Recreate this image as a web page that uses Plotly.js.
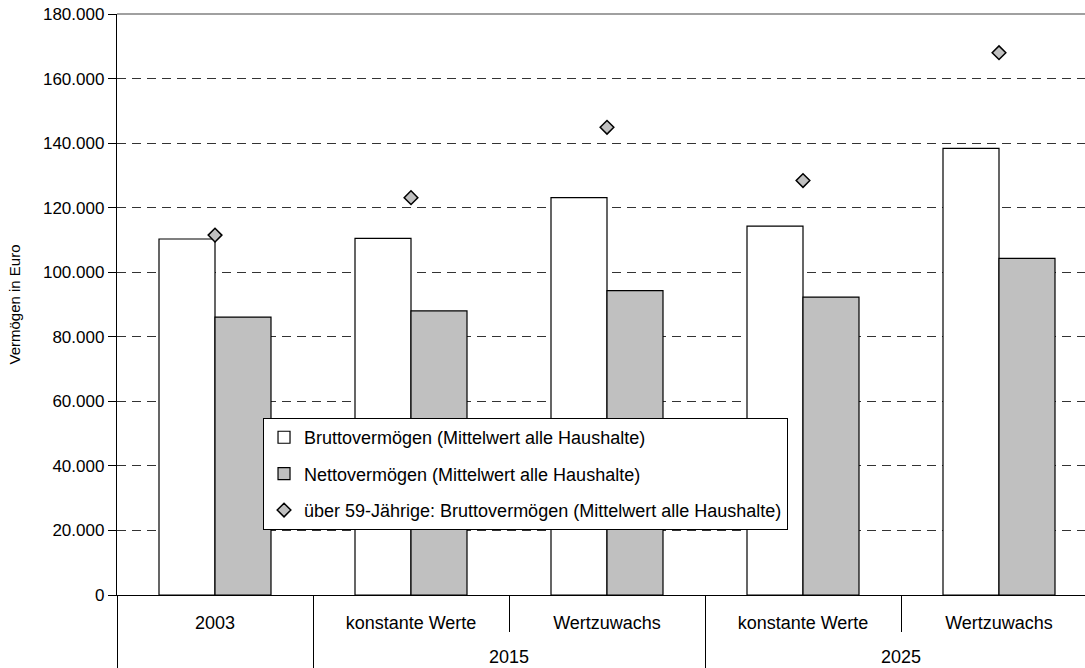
<!DOCTYPE html>
<html>
<head>
<meta charset="utf-8">
<script src="https://cdn.plot.ly/plotly-3.0.1.min.js"></script>
<style>
html, body { margin: 0; padding: 0; overflow: hidden; background: #fff; width: 1085px; height: 668px; }
#chart { width: 1120px; height: 668px; }
</style>
</head>
<body>
<div id="chart"></div>
<script>
// Category labels (outer level / inner level)
const groupLabels = [" ", "2015", "2015", "2025", "2025"];
const subLabels = ["2003", "konstante Werte", "Wertzuwachs", "konstante Werte", "Wertzuwachs"];

// Series values (Euro)
const bruttoAlle = [110300, 110500, 123100, 114300, 138400];
const nettoAlle = [86100, 88000, 94300, 92300, 104300];
const bruttoUeber59 = [111500, 123100, 144900, 128400, 168000];

// Series names
const nameBrutto = "Bruttovermögen (Mittelwert alle Haushalte)";
const nameNetto = "Nettovermögen (Mittelwert alle Haushalte)";
const nameUeber59 = "über 59-Jährige: Bruttovermögen (Mittelwert alle Haushalte)";

const yTitle = "Vermögen in Euro";

const fontFamily = "'Liberation Sans', Arial, sans-serif";
// inner labels get an empty second line so the outer row sits lower, as in the original
const xCats = [groupLabels, subLabels.map(s => s + "<br>\u00a0")];

const traces = [
  {
    type: "bar", name: nameBrutto, x: xCats, y: bruttoAlle,
    marker: { color: "#ffffff", line: { color: "#000000", width: 1.2 } },
    legendgroup: "a"
  },
  {
    type: "bar", name: nameNetto, x: xCats, y: nettoAlle,
    marker: { color: "#c0c0c0", line: { color: "#000000", width: 1.2 } },
    legendgroup: "b"
  },
  {
    type: "scatter", mode: "markers", name: nameUeber59, x: xCats, y: bruttoUeber59,
    marker: { symbol: "diamond", size: 10.5, color: "#c0c0c0", line: { color: "#000000", width: 1.5 } },
    legendgroup: "c"
  }
];

const layout = {
  width: 1120, height: 668,
  margin: { l: 117, r: 23, t: 14, b: 73 },
  paper_bgcolor: "#ffffff", plot_bgcolor: "#ffffff",
  font: { family: fontFamily, color: "#000000", size: 16 },
  separators: ",.",
  barmode: "group",
  bargap: 0.4286,
  bargroupgap: 0,
  showlegend: true,
  legend: {
    x: 0.149, y: 0.3046, xanchor: "left", yanchor: "top",
    bgcolor: "#ffffff", bordercolor: "#000000", borderwidth: 1,
    font: { family: fontFamily, size: 18, color: "#000000" },
    traceorder: "grouped", tracegroupgap: 10
  },
  xaxis: {
    type: "multicategory",
    showline: true, linecolor: "#000000", linewidth: 1.2,
    ticks: "outside", ticklen: 36, tickcolor: "#000000", tickwidth: 1,
    tickson: "boundaries",
    showdividers: true, dividercolor: "#000000", dividerwidth: 1,
    ticklabelstandoff: 11,
    tickfont: { family: fontFamily, size: 18, color: "#000000" },
    showgrid: false, zeroline: false, automargin: false, fixedrange: true
  },
  yaxis: {
    range: [0, 180000], dtick: 20000, tick0: 0, tickformat: ",d",
    showline: true, linecolor: "#000000", linewidth: 1.2,
    ticks: "outside", ticklen: 8, tickcolor: "#000000", tickwidth: 1,
    showgrid: true, gridcolor: "#333333", gridwidth: 1, griddash: "9px,6px",
    zeroline: false,
    tickfont: { family: fontFamily, size: 17, color: "#000000" },
    title: { text: yTitle, font: { family: fontFamily, size: 15, color: "#000000" }, standoff: 18 },
    automargin: false, fixedrange: true
  },
  shapes: [
    { type: "line", xref: "paper", yref: "paper", x0: 0, x1: 1, y0: 1, y1: 1,
      line: { color: "#808080", width: 1.5 } }
  ]
};

Plotly.newPlot("chart", traces, layout, { displayModeBar: false, staticPlot: true });
</script>
</body>
</html>
